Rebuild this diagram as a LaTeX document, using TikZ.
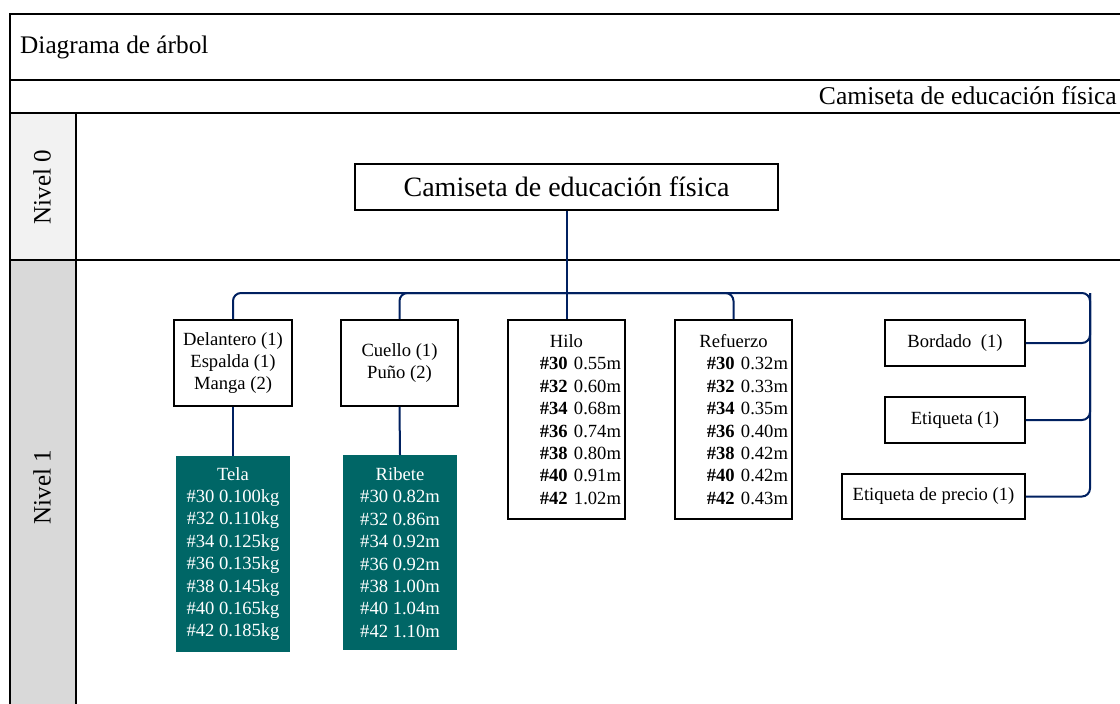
\documentclass[tikz,border=0pt]{standalone}
\usepackage{fontspec}
\setmainfont{Liberation Serif}
\definecolor{navyline}{RGB}{0,32,96}
\definecolor{tealfill}{RGB}{0,102,102}
\definecolor{cellA}{RGB}{242,242,242}
\definecolor{cellB}{RGB}{217,217,217}
\begin{document}
\begin{tikzpicture}[x=1pt,y=-1pt,
  frameline/.style={line width=2pt, black},
  boxtext/.style={font=\fontsize{18.6}{22.4}\selectfont},
  box/.style={draw, line width=1.8pt, fill=white, inner sep=0pt, align=center, boxtext},
  listbox/.style={box, minimum width=117pt, minimum height=199pt, text width=109pt, align=right},
  tealbox/.style={fill=tealfill, text=white, inner sep=0pt, align=center, boxtext,
                  minimum width=114pt},
  link/.style={draw=navyline, line width=2pt, rounded corners=8pt}]
\useasboundingbox (0,0) rectangle (1120,704);

% level column shading
\fill[cellA] (10,113) rectangle (76,260);
\fill[cellB] (10,260) rectangle (76,704);

% table frame
\draw[frameline] (1121,14) -- (10,14) -- (10,705);
\draw[frameline] (10,80) -- (1121,80);
\draw[frameline] (10,113) -- (1121,113);
\draw[frameline] (10,260) -- (1121,260);
\draw[frameline] (76,113) -- (76,705);

% headings
\node[anchor=west, font=\fontsize{25.3}{30}\selectfont, inner sep=0pt] (title) at (20,47) {Diagrama de árbol};
\node[anchor=east, font=\fontsize{25.6}{28}\selectfont, inner sep=0pt] (subtitle) at (1117,96) {Camiseta de educación física};
\node[rotate=90, font=\fontsize{25}{30}\selectfont, inner sep=0pt] (lvl0) at (42,187) {Nivel 0};
\node[rotate=90, font=\fontsize{25}{30}\selectfont, inner sep=0pt] (lvl1) at (42,487) {Nivel 1};

% tree nodes
\node[box, minimum width=423pt, minimum height=46pt, font=\fontsize{28}{30}\selectfont] (root) at (566.5,187) {Camiseta de educación física};

\node[box, minimum width=118pt, minimum height=86pt] (del) at (233,363) {Delantero (1)\\Espalda (1)\\Manga (2)};
\node[box, minimum width=117pt, minimum height=86pt] (cue) at (399.5,363) {Cuello (1)\\Puño (2)};

\node[listbox] (hilo) at (566.5,419.5) {\makebox[109pt][c]{Hilo}\\
  \textbf{\#30} 0.55m\\ \textbf{\#32} 0.60m\\ \textbf{\#34} 0.68m\\ \textbf{\#36} 0.74m\\
  \textbf{\#38} 0.80m\\ \textbf{\#40} 0.91m\\ \textbf{\#42} 1.02m};
\node[listbox] (ref) at (733.5,419.5) {\makebox[109pt][c]{Refuerzo}\\
  \textbf{\#30} 0.32m\\ \textbf{\#32} 0.33m\\ \textbf{\#34} 0.35m\\ \textbf{\#36} 0.40m\\
  \textbf{\#38} 0.42m\\ \textbf{\#40} 0.42m\\ \textbf{\#42} 0.43m};

\node[box, minimum width=140pt, minimum height=46pt] (bord) at (955,343) {Bordado\ \ (1)};
\node[box, minimum width=140pt, minimum height=46pt] (etiq) at (955,420) {Etiqueta (1)};
\node[box, minimum width=183pt, minimum height=45pt] (prec) at (933.5,496.5) {Etiqueta de precio (1)};

\node[tealbox, minimum height=196pt] (tela) at (233,554) {Tela\\ \#30 0.100kg\\ \#32 0.110kg\\ \#34 0.125kg\\ \#36 0.135kg\\ \#38 0.145kg\\ \#40 0.165kg\\ \#42 0.185kg};
\node[tealbox, minimum height=195pt] (rib) at (400,552.5) {Ribete\\ \#30 0.82m\\ \#32 0.86m\\ \#34 0.92m\\ \#36 0.92m\\ \#38 1.00m\\ \#40 1.04m\\ \#42 1.10m};

% connectors: trunk, bus and branches
\coordinate (busR) at (1090,293);
\coordinate (busM) at (hilo.north |- busR);
\draw[link] (root.south) -- (hilo.north);
\draw[link] (del.north) |- (busM);
\draw[link] (cue.north) |- (busM);
\draw[link] (ref.north) |- (busM);
\draw[link] (busM) -- (busR) |- (prec.east);
\draw[link] (bord.east) -| (busR);
\draw[link] (etiq.east) -| (busR);
\draw[link] (del.south) -- (tela.north);
\draw[link] (cue.south) -- (rib.north);
\end{tikzpicture}
\end{document}
